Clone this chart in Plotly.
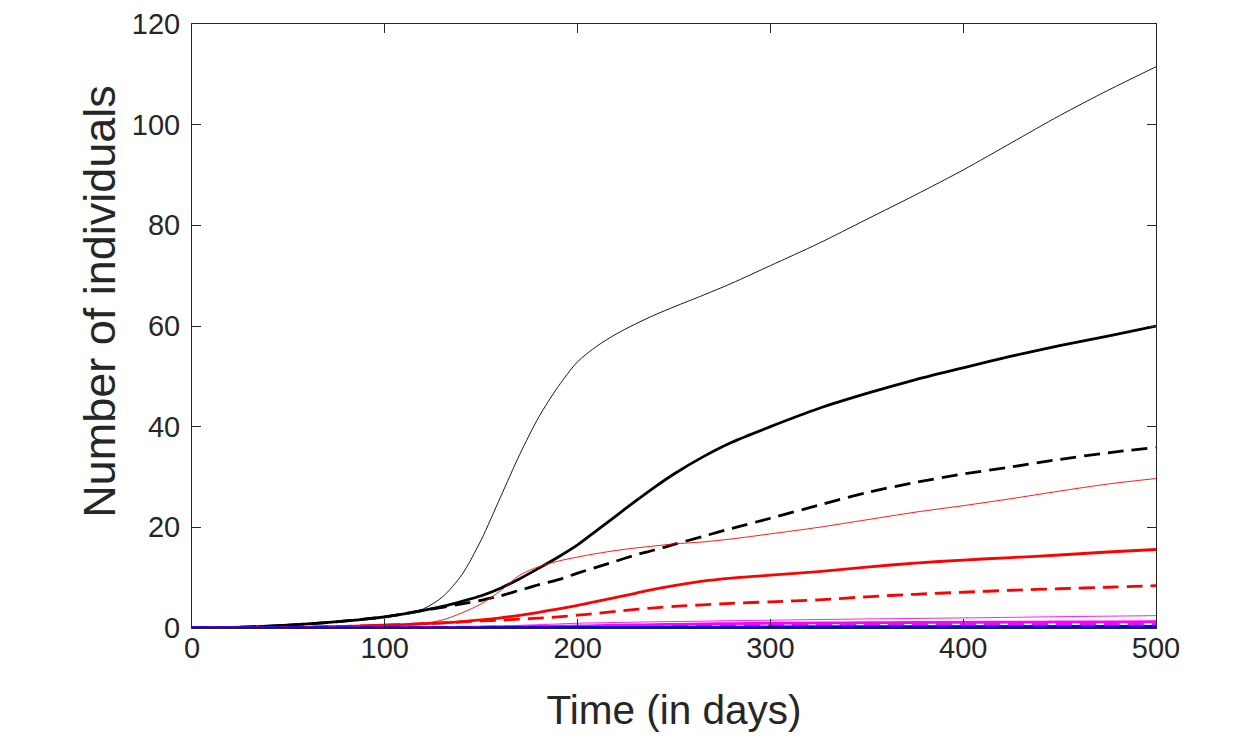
import plotly.graph_objects as go

# Time grid (days)
t = [0, 20, 40, 60, 80, 100, 110, 120, 130, 140, 150, 160, 170, 180, 190, 200,
     210, 220, 230, 240, 250, 265, 280, 300, 325, 350, 375, 400, 425, 450, 475, 500]

# Black curves
black_thin = [0, 0.1, 0.35, 0.8, 1.4, 2.2, 2.8, 3.8, 6.2, 10.6, 17.5, 26.0, 34.5, 42.0, 48.0, 52.9,
              56.0, 58.4, 60.4, 62.2, 63.8, 66.1, 68.5, 72.0, 76.4, 81.2, 86.0, 91.0, 96.4, 101.8, 106.8, 111.5]
black_thick = [0, 0.1, 0.35, 0.8, 1.4, 2.2, 2.8, 3.5, 4.3, 5.3, 6.4, 7.9, 9.8, 11.9, 14.1, 16.5,
               19.4, 22.3, 25.2, 28.0, 30.6, 34.0, 36.9, 40.0, 43.6, 46.6, 49.3, 51.7, 54.0, 56.1, 58.0, 60.0]
black_dash = [0, 0.1, 0.35, 0.8, 1.4, 2.2, 2.8, 3.5, 4.1, 4.8, 5.5, 6.4, 7.5, 8.6, 9.6, 10.9,
              12.1, 13.3, 14.5, 15.5, 16.6, 18.2, 19.8, 21.8, 24.4, 26.9, 28.9, 30.6, 32.0, 33.5, 34.8, 35.9]

# Red curves
red_thin = [0, 0.02, 0.08, 0.18, 0.32, 0.55, 0.7, 0.95, 1.6, 3.0, 4.8, 7.4, 10.5, 12.2, 13.3, 14.1,
            14.8, 15.4, 15.9, 16.3, 16.7, 17.1, 17.7, 18.7, 20.0, 21.5, 23.0, 24.3, 25.7, 27.2, 28.6, 29.7]
red_thick = [0, 0.02, 0.08, 0.18, 0.32, 0.55, 0.68, 0.85, 1.0, 1.25, 1.6, 2.0, 2.5, 3.1, 3.8, 4.5,
             5.3, 6.1, 6.9, 7.7, 8.4, 9.3, 9.9, 10.5, 11.2, 12.1, 12.9, 13.5, 14.0, 14.5, 15.1, 15.6]
red_dash = [0, 0.02, 0.08, 0.18, 0.32, 0.55, 0.68, 0.85, 1.0, 1.2, 1.4, 1.55, 1.75, 1.95, 2.2, 2.55,
            2.9, 3.3, 3.7, 4.0, 4.3, 4.6, 4.9, 5.2, 5.6, 6.2, 6.7, 7.1, 7.5, 7.8, 8.1, 8.4]

# Magenta curves
mag_thin = [0, 0.01, 0.02, 0.04, 0.07, 0.1, 0.11, 0.13, 0.16, 0.22, 0.3, 0.4, 0.53, 0.66, 0.8, 0.95,
            1.02, 1.1, 1.16, 1.22, 1.28, 1.36, 1.45, 1.55, 1.68, 1.8, 1.9, 2.0, 2.12, 2.25, 2.35, 2.45]
mag_thick = [0, 0.01, 0.02, 0.04, 0.06, 0.08, 0.09, 0.11, 0.13, 0.15, 0.18, 0.21, 0.25, 0.3, 0.35, 0.4,
             0.47, 0.54, 0.6, 0.67, 0.73, 0.81, 0.88, 0.95, 1.0, 1.05, 1.09, 1.12, 1.16, 1.2, 1.22, 1.25]
mag_dash = [0, 0.01, 0.02, 0.04, 0.06, 0.08, 0.09, 0.1, 0.11, 0.13, 0.15, 0.17, 0.19, 0.21, 0.23, 0.26,
            0.28, 0.31, 0.35, 0.38, 0.42, 0.46, 0.51, 0.56, 0.62, 0.67, 0.71, 0.75, 0.78, 0.81, 0.83, 0.85]

# Blue curves
blue_thin = [0, 0, 0.01, 0.01, 0.02, 0.03, 0.04, 0.05, 0.06, 0.07, 0.08, 0.09, 0.11, 0.13, 0.15, 0.17,
             0.19, 0.21, 0.23, 0.25, 0.27, 0.29, 0.32, 0.35, 0.38, 0.41, 0.43, 0.45, 0.47, 0.48, 0.49, 0.5]
blue_thick = [0, 0, 0, 0.01, 0.01, 0.02, 0.02, 0.03, 0.03, 0.04, 0.04, 0.05, 0.06, 0.07, 0.08, 0.1,
              0.1, 0.11, 0.12, 0.13, 0.15, 0.16, 0.17, 0.19, 0.2, 0.21, 0.22, 0.23, 0.24, 0.24, 0.25, 0.25]
blue_dash = [0, 0, 0, 0, 0.01, 0.01, 0.01, 0.02, 0.02, 0.02, 0.03, 0.03, 0.03, 0.04, 0.04, 0.05,
             0.05, 0.06, 0.06, 0.07, 0.07, 0.08, 0.08, 0.09, 0.1, 0.1, 0.11, 0.11, 0.12, 0.12, 0.12, 0.12]

DASH = "16px,8px"
FONT = "Liberation Sans, Arial, Helvetica"

series = [
    (black_thin, "black", 0.9, "solid"),
    (black_thick, "black", 2.8, "solid"),
    (black_dash, "black", 2.8, DASH),
    (red_thin, "red", 0.9, "solid"),
    (red_thick, "red", 2.8, "solid"),
    (red_dash, "red", 2.8, DASH),
    (mag_thin, "magenta", 0.9, "solid"),
    (mag_thick, "magenta", 2.8, "solid"),
    (mag_dash, "magenta", 2.8, DASH),
    (blue_thin, "blue", 0.9, "solid"),
    (blue_thick, "blue", 2.8, "solid"),
    (blue_dash, "blue", 2.8, DASH),
]

fig = go.Figure()
for vals, color, w, dash in series:
    fig.add_trace(go.Scatter(x=t, y=vals, mode="lines",
                             line=dict(color=color, width=w, dash=dash, shape="spline", smoothing=0.8),
                             showlegend=False, hoverinfo="skip"))

axis_style = dict(showline=True, linecolor="#262626", linewidth=1, mirror="ticks",
                  ticks="inside", ticklen=9, tickcolor="#262626", showgrid=False, zeroline=False,
                  automargin=False,
                  tickfont=dict(family=FONT, size=29, color="#262626"))

# page body has an 8px margin, so margins are reduced by 8 on left/top
fig.update_layout(
    width=1245, height=740,
    margin=dict(l=184, r=97, t=16, b=120),
    paper_bgcolor="white", plot_bgcolor="white",
    xaxis=dict(range=[0, 500], tickvals=[0, 100, 200, 300, 400, 500], ticklabelstandoff=-6,
               title=dict(text="Time (in days)", standoff=32,
                          font=dict(family=FONT, size=40.5, color="#262626")),
               **axis_style),
    yaxis=dict(range=[0, 120], tickvals=[0, 20, 40, 60, 80, 100, 120], ticklabelstandoff=5,
               **axis_style),
)

# y label sits a little above the axis centre in the original
fig.add_annotation(text="Number of individuals", textangle=-90, showarrow=False,
                   xref="paper", yref="paper", x=-0.0954, y=0.54,
                   xanchor="center", yanchor="middle",
                   font=dict(family=FONT, size=45, color="#262626"))

fig.write_html("out.html")
